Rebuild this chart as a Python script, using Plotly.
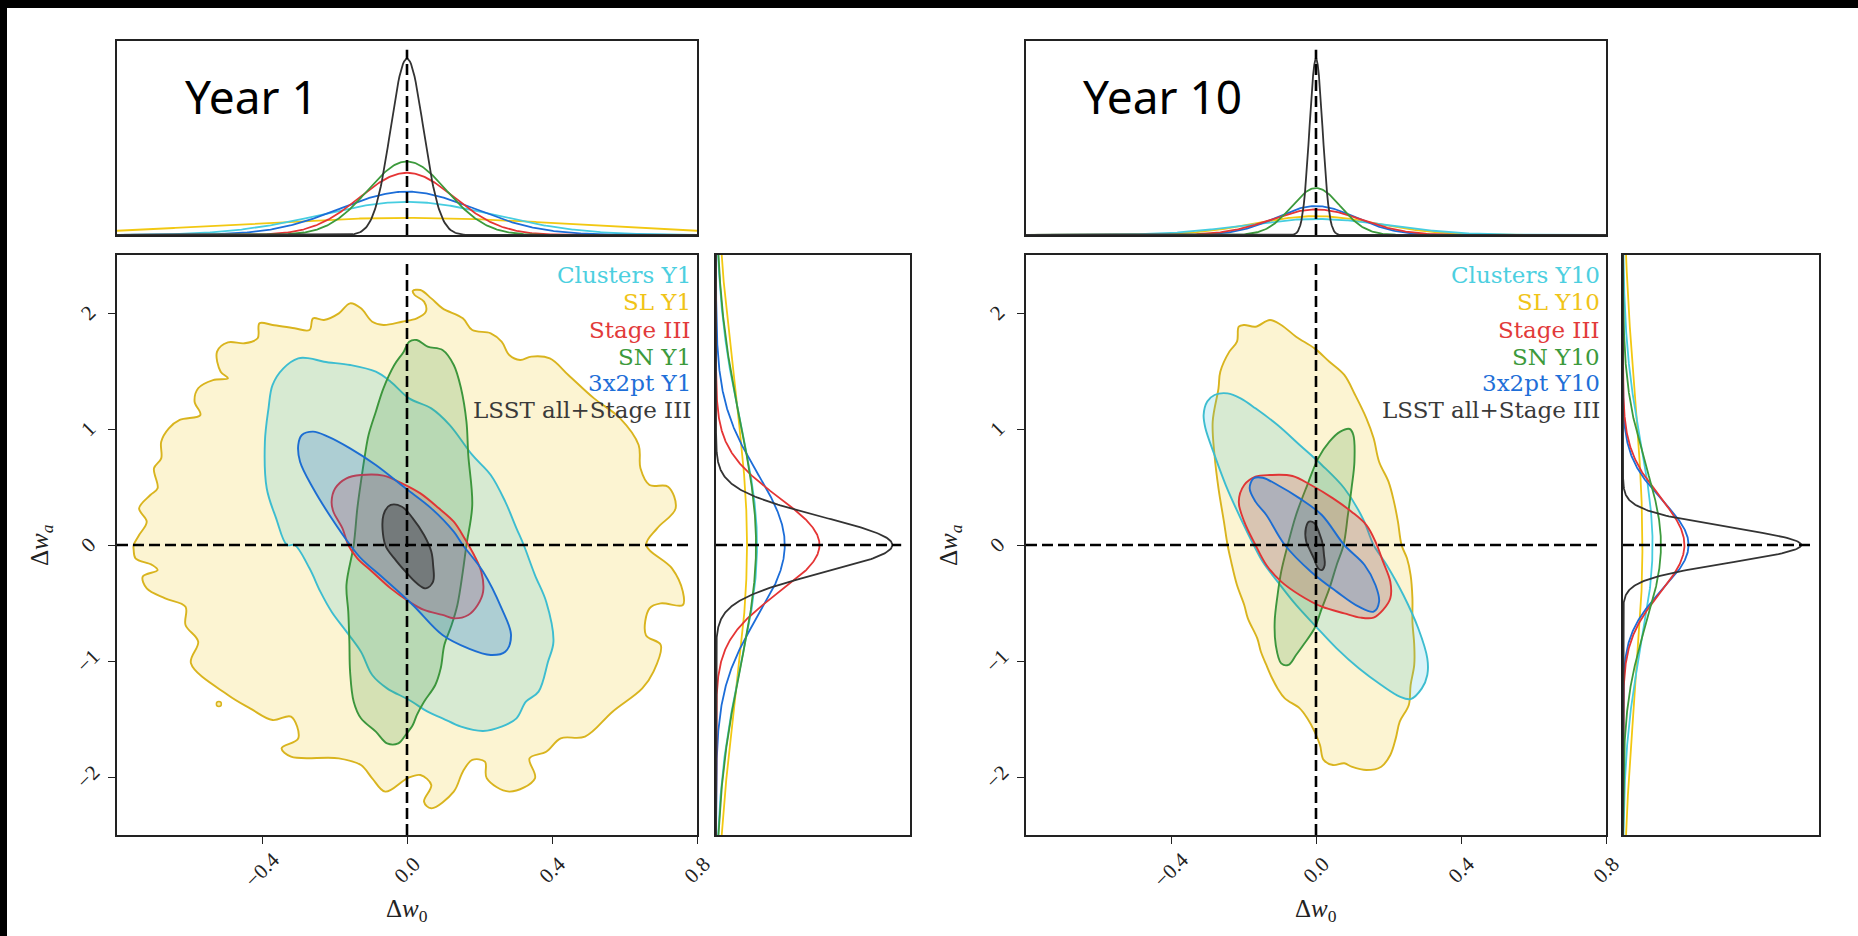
import numpy as np
import plotly.graph_objects as go

FIG_W, FIG_H = 1858, 936

# ---------------- data ----------------
labels_y1 = ["Clusters Y1", "SL Y1", "Stage III", "SN Y1", "3x2pt Y1", "LSST all+Stage III"]
labels_y10 = ["Clusters Y10", "SL Y10", "Stage III", "SN Y10", "3x2pt Y10", "LSST all+Stage III"]

line_colors = ["#3dbdd0", "#d9b41e", "#e03535", "#3c963c", "#1c6dd2", "#333333"]
marg_colors = ["#46cde0", "#f2c812", "#e53535", "#3c9a3c", "#1c6dd8", "#333333"]
text_colors = ["#4ccfe0", "#f0c418", "#e23a3a", "#3c9a3c", "#1f6fd8", "#3a3a3a"]
fill_colors = ["rgba(60,190,210,0.19)", "rgba(240,200,30,0.20)", "rgba(224,48,48,0.20)",
               "rgba(60,150,60,0.20)", "rgba(28,110,216,0.22)", "rgba(30,30,30,0.32)"]
draw_order = [1, 0, 3, 2, 4, 5]

fid_w0 = 0.0
fid_wa = 0.0

x_tick_vals = [-0.4, 0.0, 0.4, 0.8]
x_tick_text = ["\u22120.4", "0.0", "0.4", "0.8"]
y_tick_vals = [-2, -1, 0, 1, 2]
y_tick_text = ["\u22122", "\u22121", "0", "1", "2"]

# marginal widths (sigma) and normalised peak heights, order as labels
y1_w0_sigma = [0.24, 0.48, 0.13, 0.109, 0.185, 0.045]
y1_w0_peak = [0.188, 0.097, 0.353, 0.417, 0.246, 1.0]
y1_wa_sigma = [1.03, 1.36, 0.41, 1.06, 0.615, 0.24]
y1_wa_peak = [0.233, 0.176, 0.587, 0.227, 0.390, 1.0]
y10_w0_sigma = [0.198, 0.168, 0.124, 0.068, 0.11, 0.018]
y10_w0_peak = [0.091, 0.107, 0.145, 0.266, 0.164, 1.0]
y10_wa_sigma = [0.87, 1.3, 0.41, 0.68, 0.38, 0.15]
y10_wa_peak = [0.166, 0.109, 0.345, 0.213, 0.368, 1.0]

# contour outlines (w0, wa)
clusters_y1 = [(-0.331, 0), (-0.361, 0.230), (-0.387, 0.489), (-0.392, 0.891), (-0.382, 1.178), (-0.371, 1.379),
               (-0.341, 1.523), (-0.300, 1.609), (-0.269, 1.609), (-0.229, 1.580), (-0.157, 1.552), (-0.086, 1.494),
               (-0.045, 1.408), (0.006, 1.264), (0.067, 1.178), (0.118, 1.034), (0.180, 0.776), (0.231, 0.603),
               (0.271, 0.374), (0.302, 0.144), (0.322, 0), (0.353, -0.259), (0.384, -0.489), (0.404, -0.833),
               (0.389, -1.006), (0.363, -1.264), (0.328, -1.351), (0.302, -1.494), (0.261, -1.566), (0.210, -1.603),
               (0.149, -1.566), (0.098, -1.494), (0.057, -1.437), (0.006, -1.336), (-0.055, -1.236), (-0.096, -1.121),
               (-0.127, -0.920), (-0.167, -0.747), (-0.208, -0.575), (-0.239, -0.402), (-0.269, -0.201), (-0.310, 0)]

sl_y1 = [(-0.754, 0), (-0.739, 0.086), (-0.718, 0.201), (-0.739, 0.316), (-0.708, 0.431), (-0.688, 0.489),
         (-0.698, 0.661), (-0.678, 0.747), (-0.678, 0.891), (-0.657, 1.006), (-0.627, 1.078), (-0.570, 1.121),
         (-0.586, 1.236), (-0.576, 1.351), (-0.535, 1.422), (-0.494, 1.437), (-0.514, 1.494), (-0.524, 1.667),
         (-0.494, 1.747), (-0.448, 1.739), (-0.412, 1.782), (-0.407, 1.911), (-0.371, 1.897), (-0.310, 1.868),
         (-0.269, 1.853), (-0.259, 1.954), (-0.229, 1.940), (-0.188, 1.997), (-0.157, 2.083), (-0.127, 2.040),
         (-0.096, 1.925), (-0.065, 1.897), (-0.014, 1.925), (0.027, 1.954), (0.052, 2.011), (0.047, 2.098),
         (0.021, 2.155), (0.016, 2.190), (0.037, 2.198), (0.067, 2.126), (0.098, 2.040), (0.154, 1.954),
         (0.180, 1.853), (0.231, 1.825), (0.261, 1.753), (0.282, 1.638), (0.312, 1.595), (0.343, 1.624),
         (0.394, 1.609), (0.445, 1.466), (0.516, 1.264), (0.588, 1.092), (0.639, 0.862), (0.644, 0.661),
         (0.669, 0.517), (0.720, 0.503), (0.741, 0.316), (0.690, 0.144), (0.660, 0.0), (0.731, -0.201),
         (0.761, -0.402), (0.761, -0.517), (0.700, -0.503), (0.669, -0.546), (0.659, -0.776), (0.700, -0.862),
         (0.680, -1.092), (0.649, -1.236), (0.567, -1.437), (0.491, -1.652), (0.424, -1.667), (0.384, -1.782),
         (0.338, -1.839), (0.353, -2.011), (0.282, -2.126), (0.220, -2.011), (0.215, -1.868), (0.180, -1.853),
         (0.154, -1.954), (0.129, -2.126), (0.067, -2.270), (0.047, -2.213), (0.067, -2.069), (0.037, -1.983),
         (0.001, -2.011), (-0.060, -2.126), (-0.096, -2.011), (-0.127, -1.897), (-0.188, -1.839), (-0.320, -1.825),
         (-0.346, -1.753), (-0.300, -1.667), (-0.320, -1.480), (-0.371, -1.509), (-0.433, -1.408), (-0.494, -1.293),
         (-0.596, -1.020), (-0.576, -0.833), (-0.611, -0.690), (-0.611, -0.532), (-0.667, -0.460), (-0.718, -0.374),
         (-0.729, -0.273), (-0.688, -0.216), (-0.703, -0.172), (-0.749, -0.115), (-0.754, -0.043)]
sl_y1_island = [(-0.519, -1.371)]

stage3_y1 = [(-0.208, 0.374), (-0.198, 0.489), (-0.167, 0.575), (-0.127, 0.603), (-0.065, 0.598), (-0.014, 0.532),
             (0.037, 0.445), (0.088, 0.316), (0.129, 0.201), (0.159, 0.057), (0.185, -0.086), (0.205, -0.230),
             (0.210, -0.402), (0.195, -0.517), (0.169, -0.603), (0.129, -0.632), (0.098, -0.603), (0.047, -0.560),
             (0.006, -0.489), (-0.045, -0.374), (-0.096, -0.230), (-0.137, -0.115), (-0.162, 0), (-0.178, 0.144),
             (-0.203, 0.287)]

sn_y1 = [(-0.147, 0), (-0.137, 0.316), (-0.127, 0.546), (-0.116, 0.776), (-0.106, 0.948), (-0.086, 1.149),
         (-0.065, 1.351), (-0.035, 1.552), (-0.009, 1.667), (0.006, 1.753), (0.027, 1.767), (0.057, 1.710),
         (0.098, 1.681), (0.129, 1.552), (0.149, 1.351), (0.164, 1.063), (0.169, 0.776), (0.180, 0.345),
         (0.164, 0), (0.154, -0.230), (0.139, -0.517), (0.123, -0.690), (0.103, -0.862), (0.093, -1.063),
         (0.078, -1.207), (0.047, -1.351), (0.027, -1.466), (0.016, -1.552), (-0.004, -1.638), (-0.024, -1.710),
         (-0.055, -1.710), (-0.086, -1.609), (-0.127, -1.494), (-0.147, -1.351), (-0.157, -1.092), (-0.159, -0.833),
         (-0.162, -0.575), (-0.167, -0.345)]

pt3x2_y1 = [(-0.300, 0.862), (-0.290, 0.948), (-0.259, 0.977), (-0.218, 0.934), (-0.157, 0.833), (-0.086, 0.690),
            (-0.004, 0.489), (0.067, 0.316), (0.129, 0.115), (0.154, 0), (0.210, -0.230), (0.261, -0.546),
            (0.287, -0.776), (0.271, -0.920), (0.231, -0.948), (0.169, -0.891), (0.098, -0.776), (0.016, -0.517),
            (-0.065, -0.287), (-0.127, -0.115), (-0.157, 0), (-0.208, 0.230), (-0.259, 0.489), (-0.295, 0.718)]

lsst_y1 = [(-0.065, 0.259), (-0.045, 0.345), (-0.014, 0.330), (0.016, 0.230), (0.047, 0.086), (0.067, -0.057),
           (0.072, -0.172), (0.072, -0.316), (0.052, -0.374), (0.027, -0.330), (-0.004, -0.230), (-0.035, -0.115),
           (-0.060, 0.0)]

clusters_y10 = [(-0.310, 1.121), (-0.300, 1.236), (-0.280, 1.293), (-0.244, 1.307), (-0.208, 1.264), (-0.167, 1.178),
                (-0.106, 1.034), (-0.045, 0.862), (0.016, 0.690), (0.078, 0.489), (0.129, 0.230), (0.159, 0),
                (0.195, -0.172), (0.241, -0.431), (0.282, -0.718), (0.307, -0.977), (0.307, -1.121), (0.292, -1.236),
                (0.261, -1.328), (0.231, -1.307), (0.180, -1.207), (0.118, -1.063), (0.057, -0.891), (-0.004, -0.690),
                (-0.055, -0.517), (-0.106, -0.316), (-0.147, -0.144), (-0.172, 0), (-0.208, 0.230), (-0.249, 0.517),
                (-0.280, 0.776), (-0.305, 1.006)]

sl_y10 = [(-0.244, 0), (-0.254, 0.201), (-0.269, 0.489), (-0.280, 0.776), (-0.285, 1.063), (-0.269, 1.351),
          (-0.264, 1.494), (-0.239, 1.667), (-0.218, 1.753), (-0.213, 1.882), (-0.198, 1.897), (-0.167, 1.882),
          (-0.127, 1.940), (-0.096, 1.897), (-0.055, 1.796), (-0.004, 1.695), (0.037, 1.580), (0.078, 1.466),
          (0.108, 1.293), (0.139, 1.092), (0.159, 0.920), (0.174, 0.718), (0.200, 0.546), (0.215, 0.374),
          (0.226, 0.201), (0.236, 0), (0.251, -0.115), (0.261, -0.259), (0.266, -0.460), (0.266, -0.661),
          (0.271, -0.862), (0.271, -1.034), (0.261, -1.207), (0.256, -1.379), (0.231, -1.523), (0.220, -1.667),
          (0.205, -1.810), (0.180, -1.911), (0.139, -1.940), (0.098, -1.911), (0.078, -1.882), (0.047, -1.897),
          (0.021, -1.853), (0.011, -1.724), (-0.004, -1.609), (-0.024, -1.494), (-0.045, -1.408), (-0.086, -1.322),
          (-0.106, -1.236), (-0.121, -1.149), (-0.137, -1.034), (-0.152, -0.920), (-0.162, -0.805), (-0.188, -0.632),
          (-0.198, -0.517), (-0.218, -0.345), (-0.234, -0.144)]

stage3_y10 = [(-0.213, 0.374), (-0.198, 0.517), (-0.167, 0.589), (-0.127, 0.603), (-0.065, 0.595), (-0.014, 0.517),
              (0.047, 0.402), (0.098, 0.287), (0.139, 0.172), (0.164, 0.029), (0.185, -0.144), (0.205, -0.316),
              (0.205, -0.460), (0.185, -0.560), (0.159, -0.626), (0.123, -0.626), (0.078, -0.589), (0.016, -0.532),
              (-0.045, -0.431), (-0.096, -0.316), (-0.137, -0.172), (-0.167, 0), (-0.198, 0.201)]

sn_y10 = [(-0.078, 0), (-0.055, 0.259), (-0.024, 0.517), (0.006, 0.747), (0.037, 0.891), (0.067, 0.977),
          (0.093, 1.000), (0.103, 0.948), (0.106, 0.718), (0.098, 0.489), (0.088, 0.259), (0.076, 0),
          (0.057, -0.172), (0.037, -0.374), (0.016, -0.546), (-0.004, -0.718), (-0.035, -0.862), (-0.055, -0.948),
          (-0.076, -1.034), (-0.096, -1.020), (-0.111, -0.862), (-0.114, -0.661), (-0.106, -0.431), (-0.096, -0.230)]

pt3x2_y10 = [(-0.183, 0.489), (-0.172, 0.575), (-0.147, 0.580), (-0.106, 0.517), (-0.045, 0.402), (0.016, 0.259),
             (0.078, 0), (0.134, -0.172), (0.164, -0.345), (0.174, -0.489), (0.159, -0.575), (0.118, -0.532),
             (0.057, -0.402), (-0.014, -0.230), (-0.086, 0), (-0.137, 0.259), (-0.167, 0.374)]

lsst_y10 = [(-0.027, 0.029), (-0.028, 0.144), (-0.019, 0.201), (-0.004, 0.187), (0.011, 0.086), (0.019, 0),
            (0.022, -0.086), (0.024, -0.172), (0.016, -0.216), (0.006, -0.201), (-0.006, -0.115), (-0.019, -0.029)]

contours_y1 = [clusters_y1, sl_y1, stage3_y1, sn_y1, pt3x2_y1, lsst_y1]
contours_y10 = [clusters_y10, sl_y10, stage3_y10, sn_y10, pt3x2_y10, lsst_y10]

# ---------------- layout geometry (pixels of the 1858x936 page) ----------------
def dx(a, b):
    return [a / FIG_W, b / FIG_W]


def dy(top, bottom):
    return [1 - bottom / FIG_H, 1 - top / FIG_H]


MAIN_Y = dy(255, 835)
TOP_Y = dy(41, 235)
panels = [
    dict(main=dx(117, 697), side=dx(716, 910), ax=("", "2", "3"), labels=labels_y1, cont=contours_y1,
         w0s=y1_w0_sigma, w0p=y1_w0_peak, was=y1_wa_sigma, wap=y1_wa_peak, year="Year 1", year_x=183,
         ylab_x=41, island=sl_y1_island),
    dict(main=dx(1026, 1606), side=dx(1623, 1819), ax=("4", "5", "6"), labels=labels_y10, cont=contours_y10,
         w0s=y10_w0_sigma, w0p=y10_w0_peak, was=y10_wa_sigma, wap=y10_wa_peak, year="Year 10", year_x=1081,
         ylab_x=950, island=None),
]

fig = go.Figure()
frame = dict(showline=True, mirror=True, linecolor="#222222", linewidth=1.6, showgrid=False, zeroline=False)
tickfont = dict(family="Liberation Serif", size=21, color="#222222")
shapes = []
annotations = []
dash = dict(color="black", width=2.6, dash="11px,5px")

xg = np.linspace(-0.8, 0.8, 500)
yg = np.linspace(-2.5, 2.5, 800)

for p in panels:
    m, t, s = p["ax"]
    xm, ym = "x" + m, "y" + m
    xt, yt = "x" + t, "y" + t
    xs, ys = "x" + s, "y" + s

    # filled contours
    for i in draw_order:
        pts = p["cont"][i] + [p["cont"][i][0]]
        fig.add_trace(go.Scatter(
            x=[q[0] for q in pts], y=[q[1] for q in pts], mode="lines", fill="toself",
            fillcolor=fill_colors[i], line=dict(color=line_colors[i], width=1.9, shape="spline", smoothing=1.0),
            xaxis=xm, yaxis=ym, showlegend=False, hoverinfo="skip"))
    if p["island"]:
        fig.add_trace(go.Scatter(
            x=[q[0] for q in p["island"]], y=[q[1] for q in p["island"]], mode="markers",
            marker=dict(size=5, color="rgba(240,205,40,0.4)", line=dict(color=line_colors[1], width=1.5)),
            xaxis=xm, yaxis=ym, showlegend=False, hoverinfo="skip"))

    # marginals
    for i in [1, 0, 4, 2, 3, 5]:
        fig.add_trace(go.Scatter(
            x=xg, y=p["w0p"][i] * np.exp(-0.5 * ((xg - fid_w0) / p["w0s"][i]) ** 2), mode="lines",
            line=dict(color=marg_colors[i], width=1.8), xaxis=xt, yaxis=yt, showlegend=False, hoverinfo="skip"))
        fig.add_trace(go.Scatter(
            x=p["wap"][i] * np.exp(-0.5 * ((yg - fid_wa) / p["was"][i]) ** 2), y=yg, mode="lines",
            line=dict(color=marg_colors[i], width=1.8), xaxis=xs, yaxis=ys, showlegend=False, hoverinfo="skip"))

    fig.layout["xaxis" + m] = dict(domain=p["main"], anchor=ym, range=[-0.8, 0.8], tickvals=x_tick_vals,
                                   showticklabels=False, ticks="outside", ticklen=7, tickwidth=1.3,
                                   tickcolor="#222222", **frame)
    fig.layout["yaxis" + m] = dict(domain=MAIN_Y, anchor=xm, range=[-2.5, 2.5], tickvals=y_tick_vals,
                                   showticklabels=False, ticks="outside", ticklen=7, tickwidth=1.3,
                                   tickcolor="#222222", **frame)
    fig.layout["xaxis" + t] = dict(domain=p["main"], anchor=yt, range=[-0.8, 0.8], showticklabels=False,
                                   ticks="", **frame)
    fig.layout["yaxis" + t] = dict(domain=TOP_Y, anchor=xt, range=[0, 1.1], showticklabels=False, ticks="", **frame)
    fig.layout["xaxis" + s] = dict(domain=p["side"], anchor=ys, range=[0, 1.1], showticklabels=False, ticks="",
                                   **frame)
    fig.layout["yaxis" + s] = dict(domain=MAIN_Y, anchor=xs, range=[-2.5, 2.5], showticklabels=False, ticks="",
                                   **frame)

    # rotated tick labels (centred under / beside each tick, as in the original)
    for v, lab in zip(x_tick_vals, x_tick_text):
        annotations.append(dict(text=lab, xref=xm, yref="paper", x=v, y=1 - 870 / FIG_H, textangle=-45,
                                xanchor="center", yanchor="middle", showarrow=False, font=tickfont))
    for v, lab in zip(y_tick_vals, y_tick_text):
        annotations.append(dict(text=lab, xref="paper", yref=ym, x=(p["main"][0] * FIG_W - 29) / FIG_W, y=v,
                                textangle=-45, xanchor="center", yanchor="middle", showarrow=False, font=tickfont))

    # fiducial dashed lines
    shapes += [
        dict(type="line", xref=xm, yref=ym + " domain", x0=fid_w0, x1=fid_w0, y0=0, y1=0.988, line=dash,
             layer="above"),
        dict(type="line", xref=xm + " domain", yref=ym, x0=0, x1=0.99, y0=fid_wa, y1=fid_wa, line=dash,
             layer="above"),
        dict(type="line", xref=xt, yref=yt, x0=fid_w0, x1=fid_w0, y0=0, y1=1.05, line=dash, layer="above"),
        dict(type="line", xref=xs, yref=ys, x0=0, x1=1.05, y0=fid_wa, y1=fid_wa, line=dash, layer="above"),
    ]

    # legend-like labels
    ypos = [275, 302, 330, 357, 383, 410]
    for i, lab in enumerate(p["labels"]):
        annotations.append(dict(text=lab, xref="paper", yref="paper", x=(p["main"][0] * FIG_W + 576) / FIG_W,
                                y=1 - ypos[i] / FIG_H, xanchor="right", yanchor="middle", showarrow=False,
                                font=dict(family="DejaVu Serif", size=23, color=text_colors[i])))
    annotations.append(dict(text=p["year"], xref="paper", yref="paper", x=p["year_x"] / FIG_W, y=1 - 96 / FIG_H,
                            xanchor="left", yanchor="middle", showarrow=False,
                            font=dict(family="Noto Sans", size=46, color="black")))
    cx = (p["main"][0] + p["main"][1]) / 2
    annotations.append(dict(text="\u0394<i>w</i><sub>0</sub>", xref="paper", yref="paper", x=cx, y=1 - 910 / FIG_H,
                            xanchor="center", yanchor="middle", showarrow=False,
                            font=dict(family="Liberation Serif", size=25, color="#222222")))
    annotations.append(dict(text="\u0394<i>w</i><sub><i>a</i></sub>", xref="paper", yref="paper",
                            x=p["ylab_x"] / FIG_W, y=1 - 545 / FIG_H, xanchor="center", yanchor="middle",
                            showarrow=False, textangle=-90,
                            font=dict(family="Liberation Serif", size=25, color="#222222")))

# black border strips of the original image
shapes += [
    dict(type="rect", xref="paper", yref="paper", x0=0, x1=1, y0=1 - 8 / FIG_H, y1=1, fillcolor="black",
         line=dict(width=0), layer="above"),
    dict(type="rect", xref="paper", yref="paper", x0=0, x1=7 / FIG_W, y0=0, y1=1, fillcolor="black",
         line=dict(width=0), layer="above"),
]

fig.update_layout(height=FIG_H, autosize=True, margin=dict(l=0, r=0, t=0, b=0), paper_bgcolor="white",
                  plot_bgcolor="white", shapes=shapes, annotations=annotations, showlegend=False)
fig.write_html("out.html", config={"displayModeBar": False, "responsive": True}, default_width="100vw",
               post_script="document.body.style.margin='0px';document.body.style.overflow='hidden';")
